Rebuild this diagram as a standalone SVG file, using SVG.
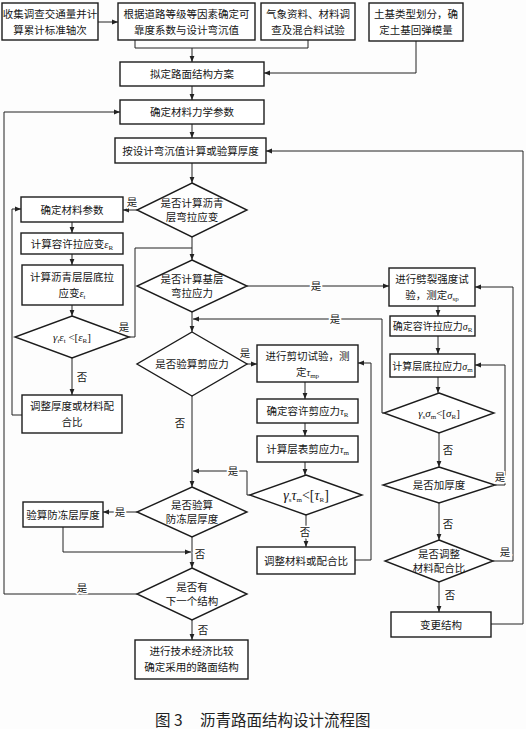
<svg xmlns="http://www.w3.org/2000/svg" width="526" height="729" viewBox="0 0 526 729">
<defs>
<marker id="ar" viewBox="0 0 10 10" refX="10" refY="5" markerWidth="7" markerHeight="6" orient="auto" markerUnits="userSpaceOnUse">
<path d="M0,1 L10,5 L0,9 z" fill="#222"/>
</marker>
<style>
.box{fill:#fff;stroke:#1c1c1c;stroke-width:1.4}
.t{font-family:"Noto Sans CJK SC","Liberation Serif",sans-serif;font-size:10.5px;fill:#151515;text-anchor:middle}
.g{font-family:"Liberation Serif",serif;font-style:italic}
.s{font-family:"Liberation Serif",serif;font-size:7px}
.c{fill:none;stroke:#222;stroke-width:1}
.ca{fill:none;stroke:#222;stroke-width:1;marker-end:url(#ar)}
.l{font-family:"Noto Sans CJK SC",sans-serif;font-size:10.5px;fill:#151515;text-anchor:middle;paint-order:stroke;stroke:#fff;stroke-width:3px}
.cap{font-family:"Noto Sans CJK SC",sans-serif;font-size:15.5px;fill:#222}
</style>
</defs>
<rect x="0" y="0" width="526" height="729" fill="#fdfdfd"/>

<g id="connectors">
<path class="ca" d="M98,22 H118"/>
<path class="c" d="M135,40 V48 H308 V40"/>
<path class="ca" d="M192,48 V62"/>
<path class="ca" d="M416,41 V73 H264"/>
<path class="ca" d="M192,86 V100"/>
<path class="ca" d="M192,124 V138"/>
<path class="ca" d="M192,163 V183"/>
<path class="ca" d="M137,210 H123"/>
<path class="ca" d="M72,222 V233"/>
<path class="ca" d="M72,254 V265"/>
<path class="ca" d="M72,305 V316"/>
<path class="c" d="M129,337 H135 V248 H192"/>
<path class="ca" d="M72,358 V395"/>
<path class="ca" d="M22,415 H12 V209 H21"/>
<path class="ca" d="M192,237 V260"/>
<path class="ca" d="M247,286 H389"/>
<path class="ca" d="M438,306 V316"/>
<path class="ca" d="M438,336 V354"/>
<path class="ca" d="M438,377 V393"/>
<path class="ca" d="M384,413 H382 V319 H193"/>
<path class="ca" d="M439,433 V467"/>
<path class="ca" d="M495,485 H505 V365 H475"/>
<path class="ca" d="M439,503 V540"/>
<path class="ca" d="M493,561 H513 V287 H475"/>
<path class="ca" d="M439,582 V612"/>
<path class="ca" d="M491,624 H523 V151 H266"/>
<path class="ca" d="M192,312 V332"/>
<path class="ca" d="M247,364 H257"/>
<path class="ca" d="M305,382 V399"/>
<path class="ca" d="M305,423 V436"/>
<path class="ca" d="M305,462 V475"/>
<path class="ca" d="M250,495 H247 V471 H193"/>
<path class="ca" d="M306,515 V547"/>
<path class="ca" d="M355,560 H371 V363 H358"/>
<path class="ca" d="M192,396 V487"/>
<path class="ca" d="M137,512 H103"/>
<path class="ca" d="M63,527 V552 H191"/>
<path class="ca" d="M192,537 V568"/>
<path class="ca" d="M137,594 H4 V112 H120"/>
<path class="ca" d="M192,620 V640"/>
<text class="l" x="132" y="206">是</text>
<text class="l" x="124" y="331">是</text>
<text class="l" x="82" y="381">否</text>
<text class="l" x="316" y="290">是</text>
<text class="l" x="335" y="323">是</text>
<text class="l" x="448" y="454">否</text>
<text class="l" x="500" y="481">是</text>
<text class="l" x="448" y="528">否</text>
<text class="l" x="505" y="556">是</text>
<text class="l" x="450" y="599">否</text>
<text class="l" x="245" y="357">是</text>
<text class="l" x="233" y="475">是</text>
<text class="l" x="305" y="536">否</text>
<text class="l" x="180" y="427">否</text>
<text class="l" x="120" y="516">是</text>
<text class="l" x="200" y="558">否</text>
<text class="l" x="82" y="592">是</text>
<text class="l" x="203" y="634">否</text>
</g>

<g id="n1"><rect class="box" x="2" y="3" width="96" height="37"/>
<text class="t" x="50" y="18">收集调查交通量并计</text><text class="t" x="50" y="34">算累计标准轴次</text></g>
<g id="n2"><rect class="box" x="118" y="3" width="137" height="37"/>
<text class="t" x="186.5" y="18">根据道路等级等因素确定可</text><text class="t" x="186.5" y="34">靠度系数与设计弯沉值</text></g>
<g id="n3"><rect class="box" x="261" y="3" width="94" height="37"/>
<text class="t" x="308" y="18">气象资料、材料调</text><text class="t" x="308" y="34">查及混合料试验</text></g>
<g id="n4"><rect class="box" x="369" y="3" width="94" height="38"/>
<text class="t" x="416" y="18">土基类型划分，确</text><text class="t" x="416" y="34">定土基回弹模量</text></g>
<g id="n5"><rect class="box" x="120" y="62" width="144" height="24"/>
<text class="t" x="192" y="78">拟定路面结构方案</text></g>
<g id="n6"><rect class="box" x="120" y="100" width="144" height="24"/>
<text class="t" x="192" y="116">确定材料力学参数</text></g>
<g id="n7"><rect class="box" x="115" y="138" width="151" height="25"/>
<text class="t" x="190.5" y="154.5">按设计弯沉值计算或验算厚度</text></g>
<g id="d1"><polygon class="box" points="192,183 247,210 192,237 137,210"/>
<text class="t" x="192" y="207">是否计算沥青</text><text class="t" x="192" y="221">层弯拉应变</text></g>
<g id="n8"><rect class="box" x="21" y="197" width="102" height="25"/>
<text class="t" x="72" y="213.5">确定材料参数</text></g>
<g id="n9"><rect class="box" x="21" y="233" width="102" height="21"/>
<text class="t" x="72" y="247.5">计算容许拉应变<tspan class="g">ε</tspan><tspan class="s" dy="2">R</tspan></text></g>
<g id="n10"><rect class="box" x="22" y="265" width="101" height="40"/>
<text class="t" x="72" y="281">计算沥青层层底拉</text><text class="t" x="72" y="297">应变<tspan class="g">ε</tspan><tspan class="s" dy="2">t</tspan></text></g>
<g id="d2"><polygon class="box" points="72,316 129,337 72,358 15,337"/>
<text class="t" x="72" y="341" style="font-size:11px"><tspan class="g">γ</tspan><tspan class="s" dy="2">t</tspan><tspan class="g" dy="-2">ε</tspan><tspan class="s" dy="2">t</tspan><tspan dy="-2" class="g" style="font-style:normal"> &lt;[</tspan><tspan class="g">ε</tspan><tspan class="s" dy="2">R</tspan><tspan dy="-2" class="g" style="font-style:normal">]</tspan></text></g>
<g id="n11"><rect class="box" x="22" y="395" width="100" height="38"/>
<text class="t" x="72" y="410">调整厚度或材料配</text><text class="t" x="72" y="426">合比</text></g>
<g id="d3"><polygon class="box" points="192,260 247,286 192,312 137,286"/>
<text class="t" x="192" y="283">是否计算基层</text><text class="t" x="192" y="297">弯拉应力</text></g>
<g id="n12"><rect class="box" x="389" y="268" width="86" height="38"/>
<text class="t" x="432" y="283">进行劈裂强度试</text><text class="t" x="432" y="299">验，测定<tspan class="g">σ</tspan><tspan class="s" dy="2">sp</tspan></text></g>
<g id="n13"><rect class="box" x="390" y="316" width="85" height="20"/>
<text class="t" x="432.5" y="330" style="font-size:10px">确定容许拉应力<tspan class="g">σ</tspan><tspan class="s" dy="2">R</tspan></text></g>
<g id="n14"><rect class="box" x="390" y="354" width="85" height="23"/>
<text class="t" x="432.5" y="369.5" style="font-size:10px">计算层底拉应力<tspan class="g">σ</tspan><tspan class="s" dy="2">m</tspan></text></g>
<g id="d4"><polygon class="box" points="439,393 494,413 439,433 384,413"/>
<text class="t" x="439" y="417" style="font-size:11px"><tspan class="g">γ</tspan><tspan class="s" dy="2">s</tspan><tspan class="g" dy="-2">σ</tspan><tspan class="s" dy="2">m</tspan><tspan dy="-2" class="g" style="font-style:normal">&lt;[</tspan><tspan class="g">σ</tspan><tspan class="s" dy="2">R</tspan><tspan dy="-2" class="g" style="font-style:normal">]</tspan></text></g>
<g id="d5"><polygon class="box" points="439,467 495,485 439,503 383,485"/>
<text class="t" x="439" y="489">是否加厚度</text></g>
<g id="d6"><polygon class="box" points="439,540 493,561 439,582 385,561"/>
<text class="t" x="439" y="558">是否调整</text><text class="t" x="439" y="572">材料配合比</text></g>
<g id="n15"><rect class="box" x="391" y="612" width="100" height="25"/>
<text class="t" x="441" y="628.5">变更结构</text></g>
<g id="d7"><polygon class="box" points="192,332 247,364 192,396 137,364"/>
<text class="t" x="192" y="368">是否验算剪应力</text></g>
<g id="n16"><rect class="box" x="257" y="345" width="101" height="37"/>
<text class="t" x="307.5" y="360">进行剪切试验，测</text><text class="t" x="307.5" y="376">定<tspan class="g">τ</tspan><tspan class="s" dy="2">mp</tspan></text></g>
<g id="n17"><rect class="box" x="257" y="399" width="101" height="24"/>
<text class="t" x="307.5" y="415">确定容许剪应力<tspan class="g">τ</tspan><tspan class="s" dy="2">R</tspan></text></g>
<g id="n18"><rect class="box" x="257" y="436" width="101" height="26"/>
<text class="t" x="307.5" y="453">计算层表剪应力<tspan class="g">τ</tspan><tspan class="s" dy="2">m</tspan></text></g>
<g id="d8"><polygon class="box" points="306,475 362,495 306,515 250,495"/>
<text class="t" x="306" y="500" style="font-size:14px"><tspan class="g">γ</tspan><tspan class="s" dy="2">s</tspan><tspan class="g" dy="-2">τ</tspan><tspan class="s" dy="2">m</tspan><tspan dy="-2" class="g" style="font-style:normal">&lt;[</tspan><tspan class="g">τ</tspan><tspan class="s" dy="2">R</tspan><tspan dy="-2" class="g" style="font-style:normal">]</tspan></text></g>
<g id="n19"><rect class="box" x="257" y="547" width="98" height="27"/>
<text class="t" x="306" y="564.5">调整材料或配合比</text></g>
<g id="d9"><polygon class="box" points="192,487 247,512 192,537 137,512"/>
<text class="t" x="192" y="509">是否验算</text><text class="t" x="192" y="523">防冻层厚度</text></g>
<g id="n20"><rect class="box" x="23" y="502" width="80" height="25"/>
<text class="t" x="63" y="518.5">验算防冻层厚度</text></g>
<g id="d10"><polygon class="box" points="192,568 247,594 192,620 137,594"/>
<text class="t" x="192" y="591">是否有</text><text class="t" x="192" y="605">下一个结构</text></g>
<g id="n21"><rect class="box" x="135" y="640" width="113" height="39"/>
<text class="t" x="191.5" y="655">进行技术经济比较</text><text class="t" x="191.5" y="671">确定采用的路面结构</text></g>

<text class="cap" x="155" y="726">图 3<tspan x="200">沥青路面结构设计流程图</tspan></text>
</svg>
